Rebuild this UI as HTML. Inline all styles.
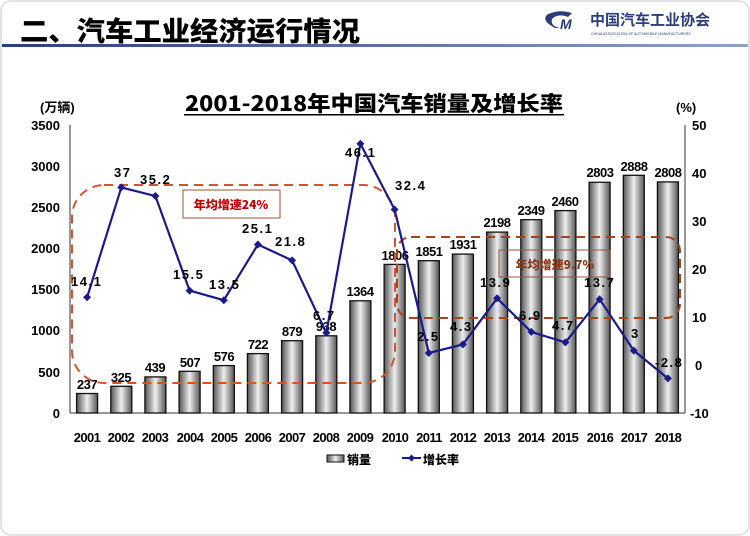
<!DOCTYPE html>
<html><head><meta charset="utf-8"><style>
html,body{margin:0;padding:0;background:#fff;}
svg{display:block;}
text{font-family:"Liberation Sans","Noto Sans CJK SC",sans-serif;font-weight:bold;fill:#000;}
</style></head><body>
<svg width="750" height="536" viewBox="0 0 750 536" xmlns="http://www.w3.org/2000/svg">
<defs>
<linearGradient id="bg" x1="0" x2="1" y1="0" y2="0">
<stop offset="0" stop-color="#555"/><stop offset="0.5" stop-color="#eee"/><stop offset="1" stop-color="#555"/>
</linearGradient>
<linearGradient id="hd" x1="0" x2="1"><stop offset="0" stop-color="#2a3f7a"/><stop offset="1" stop-color="#8ea3c8"/></linearGradient>
</defs>
<rect x="1" y="1" width="748" height="534" rx="10" fill="#fff" stroke="#e2e2e2" stroke-width="2"/>
<!-- header -->
<text x="20" y="41" font-size="27" textLength="340" lengthAdjust="spacingAndGlyphs" style="font-family:'Noto Sans CJK SC',sans-serif;font-weight:900">二、汽车工业经济运行情况</text>
<rect x="2" y="44" width="746" height="3" fill="url(#hd)"/>
<path d="M555 28 Q540 20 548 14 Q560 9 572 13 L568 17 Q558 13 552 19 Q550 26 560 28 Z" fill="#2b3d7c"/>
<text x="560" y="29" font-size="14" fill="#2b3d7c" style="fill:#2b3d7c;font-style:italic">M</text>
<text x="590" y="25" font-size="15" style="fill:#2b3d7c;font-family:'Noto Sans CJK SC',sans-serif">中国汽车工业协会</text>
<text x="591" y="35" font-size="3.6" style="fill:#2b3d7c;font-weight:normal">CHINA ASSOCIATION OF AUTOMOBILE MANUFACTURERS</text>
<!-- title -->
<text x="185" y="111" font-size="21" textLength="378" lengthAdjust="spacingAndGlyphs" style="font-family:'Noto Sans CJK SC',sans-serif;font-weight:900">2001-2018年中国汽车销量及增长率</text>
<rect x="184" y="114" width="380" height="1.5" fill="#000"/>
<text x="40" y="112" font-size="13">(万辆)</text>
<text x="676" y="112" font-size="13">(%)</text>
<!-- axes -->
<g stroke="#333" stroke-width="1">
<line x1="70" y1="125" x2="70" y2="413"/><line x1="685" y1="125" x2="685" y2="413"/>
<line x1="70" y1="413" x2="685" y2="413"/>
</g>
<g font-size="13" text-anchor="end">
<text x="60" y="418">0</text><text x="60" y="377">500</text><text x="60" y="335">1000</text><text x="60" y="294">1500</text><text x="60" y="253">2000</text><text x="60" y="212">2500</text><text x="60" y="171">3000</text><text x="60" y="130">3500</text>
</g>
<g font-size="13">
<text x="690" y="418">-10</text><text x="695" y="370">0</text><text x="692" y="322">10</text><text x="692" y="274">20</text><text x="692" y="226">30</text><text x="692" y="178">40</text><text x="692" y="130">50</text>
</g>
<!-- bars -->
<g fill="url(#bg)" stroke="#111" stroke-width="1.3">
<rect x="76.6" y="393.5" width="21" height="19.5"/>
<rect x="110.8" y="386.3" width="21" height="26.7"/>
<rect x="144.9" y="376.9" width="21" height="36.1"/>
<rect x="179.1" y="371.3" width="21" height="41.7"/>
<rect x="213.3" y="365.6" width="21" height="47.4"/>
<rect x="247.4" y="353.6" width="21" height="59.4"/>
<rect x="281.6" y="340.7" width="21" height="72.3"/>
<rect x="315.8" y="335.8" width="21" height="77.2"/>
<rect x="349.9" y="300.8" width="21" height="112.2"/>
<rect x="384.1" y="264.4" width="21" height="148.6"/>
<rect x="418.3" y="260.7" width="21" height="152.3"/>
<rect x="452.4" y="254.1" width="21" height="158.9"/>
<rect x="486.6" y="232.1" width="21" height="180.9"/>
<rect x="520.8" y="219.7" width="21" height="193.3"/>
<rect x="554.9" y="210.6" width="21" height="202.4"/>
<rect x="589.1" y="182.3" width="21" height="230.7"/>
<rect x="623.3" y="175.3" width="21" height="237.7"/>
<rect x="657.4" y="181.9" width="21" height="231.1"/>
</g>
<g font-size="13" text-anchor="middle" letter-spacing="-0.5">
<text x="87" y="389">237</text><text x="121" y="382">325</text><text x="155" y="372">439</text><text x="190" y="367">507</text><text x="224" y="361">576</text><text x="258" y="349">722</text><text x="292" y="336">879</text><text x="326" y="331">938</text><text x="360" y="296">1364</text><text x="395" y="260">1806</text><text x="429" y="256">1851</text><text x="463" y="249">1931</text><text x="497" y="227">2198</text><text x="531" y="215">2349</text><text x="565" y="206">2460</text><text x="600" y="177">2803</text><text x="634" y="171">2888</text><text x="668" y="177">2808</text>
</g>
<!-- dashed boxes -->
<rect x="72" y="185" width="323" height="198" rx="32" fill="none" stroke="#d2542e" stroke-width="2" stroke-dasharray="9,6"/>
<rect x="397" y="237" width="283" height="81" rx="14" fill="none" stroke="#a8421a" stroke-width="2" stroke-dasharray="9,6"/>
<rect x="183" y="190" width="97" height="28" fill="#fff" stroke="#a05040" stroke-width="1"/>
<text x="231" y="209" font-size="12" text-anchor="middle" style="fill:#c00000;font-family:'Noto Sans CJK SC',sans-serif;font-weight:900">年均增速24%</text>
<rect x="499" y="250" width="111" height="27" fill="none" stroke="#a05040" stroke-width="1"/>
<text x="555" y="269" font-size="12" text-anchor="middle" style="fill:#8a3a1a;font-family:'Noto Sans CJK SC',sans-serif;font-weight:900">年均增速9.7%</text>
<!-- line -->
<polyline fill="none" stroke="#1a1a8c" stroke-width="2.2" points="87.1,297.3 121.3,187.4 155.4,196 189.6,290.6 223.8,300.2 257.9,244.5 292.1,260.4 326.3,332.8 360.4,143.7 394.6,209.5 428.8,353 462.9,344.4 497.1,298.3 531.3,331.9 565.4,342.4 599.6,299.2 633.8,350.6 667.9,378.4"/>
<g fill="#1a1a8c">
<path d="M87.1 293.3l4 4-4 4-4-4z"/><path d="M121.3 183.4l4 4-4 4-4-4z"/><path d="M155.4 192l4 4-4 4-4-4z"/><path d="M189.6 286.6l4 4-4 4-4-4z"/><path d="M223.8 296.2l4 4-4 4-4-4z"/><path d="M257.9 240.5l4 4-4 4-4-4z"/><path d="M292.1 256.4l4 4-4 4-4-4z"/><path d="M326.3 328.8l4 4-4 4-4-4z"/><path d="M360.4 139.7l4 4-4 4-4-4z"/><path d="M394.6 205.5l4 4-4 4-4-4z"/><path d="M428.8 349l4 4-4 4-4-4z"/><path d="M462.9 340.4l4 4-4 4-4-4z"/><path d="M497.1 294.3l4 4-4 4-4-4z"/><path d="M531.3 327.9l4 4-4 4-4-4z"/><path d="M565.4 338.4l4 4-4 4-4-4z"/><path d="M599.6 295.2l4 4-4 4-4-4z"/><path d="M633.8 346.6l4 4-4 4-4-4z"/><path d="M667.9 374.4l4 4-4 4-4-4z"/>
</g>
<g font-size="13" letter-spacing="1.5">
<text x="71" y="286">14.1</text><text x="114" y="177">37</text><text x="140" y="184">35.2</text><text x="173" y="279">15.5</text><text x="209" y="289">13.5</text><text x="242" y="233">25.1</text><text x="275" y="246">21.8</text><text x="313" y="320">6.7</text><text x="345" y="157">46.1</text><text x="395" y="190">32.4</text><text x="417" y="341">2.5</text><text x="450" y="331">4.3</text><text x="480" y="287">13.9</text><text x="519" y="320">6.9</text><text x="552" y="330">4.7</text><text x="584" y="287">13.7</text><text x="631" y="338">3</text><text x="655" y="367">-2.8</text>
</g>
<!-- x labels -->
<g font-size="13" text-anchor="middle" letter-spacing="-0.6">
<text x="87" y="442">2001</text><text x="121" y="442">2002</text><text x="155" y="442">2003</text><text x="190" y="442">2004</text><text x="224" y="442">2005</text><text x="258" y="442">2006</text><text x="292" y="442">2007</text><text x="326" y="442">2008</text><text x="360" y="442">2009</text><text x="395" y="442">2010</text><text x="429" y="442">2011</text><text x="463" y="442">2012</text><text x="497" y="442">2013</text><text x="531" y="442">2014</text><text x="565" y="442">2015</text><text x="600" y="442">2016</text><text x="634" y="442">2017</text><text x="668" y="442">2018</text>
</g>
<!-- legend -->
<rect x="327" y="455" width="17" height="7" fill="url(#bg)" stroke="#111"/>
<text x="347" y="464" font-size="12" style="font-family:'Noto Sans CJK SC',sans-serif;font-weight:900">销量</text>
<line x1="402" y1="458" x2="421" y2="458" stroke="#1a1a8c" stroke-width="2"/>
<path d="M411.5 454.5l3.5 3.5-3.5 3.5-3.5-3.5z" fill="#1a1a8c"/>
<text x="423" y="464" font-size="12" style="font-family:'Noto Sans CJK SC',sans-serif;font-weight:900">增长率</text>
</svg>
</body></html>
